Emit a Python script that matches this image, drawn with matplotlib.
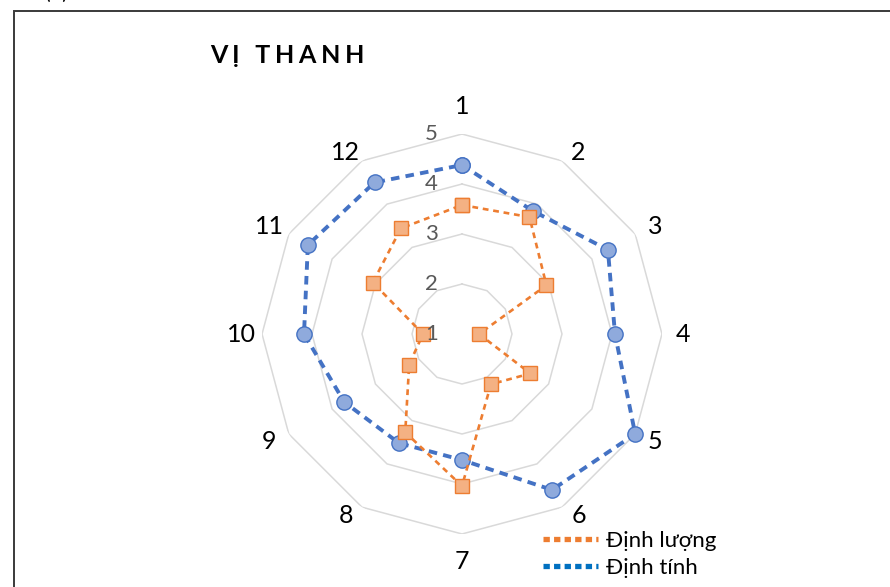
import numpy as np
import matplotlib
matplotlib.use("Agg")
import matplotlib.pyplot as plt
from matplotlib.lines import Line2D
from matplotlib.patches import Rectangle

plt.rcParams['font.family'] = ['Lato', 'DejaVu Sans']

categories = ['1', '2', '3', '4', '5', '6', '7', '8', '9', '10', '11', '12']
dinh_luong = [3.58, 3.70, 2.95, 1.34, 2.58, 2.16, 4.04, 3.27, 2.22, 1.78, 3.06, 3.44]
dinh_tinh = [4.38, 3.84, 4.37, 4.06, 5.00, 4.60, 3.52, 3.52, 3.72, 4.16, 4.56, 4.50]
ring_values = [1, 2, 3, 4, 5]

n = len(categories)
theta = np.linspace(0, 2 * np.pi, n, endpoint=False)
theta_closed = np.append(theta, theta[0])


def closed(vals):
    return np.append(vals, vals[0])


fig = plt.figure(figsize=(8.9, 5.87), dpi=100)
ax = fig.add_axes([0.2944, 0.0903, 0.4494, 0.6814], projection='polar')
ax.set_theta_zero_location('N')
ax.set_theta_direction(-1)
ax.set_ylim(1, 5)
ax.grid(False)
ax.spines['polar'].set_visible(False)
ax.set_xticks([])
ax.set_yticks([])

# polygon gridlines
for v in ring_values[1:]:
    ax.plot(theta_closed, [v] * (n + 1), color='#D9D9D9', lw=1.1, zorder=1)

for v in ring_values:
    ax.annotate(str(v), xy=(0, v), xytext=(-24, 0), textcoords='offset pixels',
                ha='right', va='center', fontsize=16, color='#595959', zorder=6)

ax.plot(theta_closed, closed(dinh_tinh), color='#4472C4', lw=2.8,
        linestyle=(0, (2.2, 1.6)), marker='o', markersize=11,
        markerfacecolor='#8FAADC', markeredgecolor='#4472C4', markeredgewidth=1,
        zorder=3, clip_on=False)
ax.plot(theta_closed, closed(dinh_luong), color='#ED7D31', lw=1.9,
        linestyle=(0, (2.2, 1.8)), marker='s', markersize=10,
        markerfacecolor='#F4B183', markeredgecolor='#ED7D31', markeredgewidth=1,
        zorder=4, clip_on=False)

# category labels sit just outside the outer ring
for t, lab in zip(theta, categories):
    s, c = np.sin(t), np.cos(t)
    dx = np.sign(round(s, 3)) * (12 + 9 * abs(s))
    dy = np.sign(round(c, 3)) * (8 + 20 * (abs(c) > 0.99))
    ax.annotate(lab, xy=(t, 5), xytext=(dx, dy), textcoords='offset pixels',
                ha='center', va='center', fontsize=18, color='black',
                annotation_clip=False)

fig.text(0.236, 0.905, '\u2009\u200a'.join('VỊ THANH'), fontsize=18, fontweight='bold',
         ha='left', va='center', color='black')
fig.text(0.05, 1.002, '(b)', fontsize=15, ha='left', va='baseline')

fig.add_artist(Rectangle((0.0157, -0.1), 1.2, 0.1 + 0.9813, transform=fig.transFigure,
                         fill=False, edgecolor='#3A3A3A', lw=1.4))

handles = [
    Line2D([], [], color='#ED7D31', lw=3.8, linestyle=(0, (1.2, 0.8)), dash_capstyle='butt'),
    Line2D([], [], color='#0070C0', lw=3.8, linestyle=(0, (1.2, 0.8)), dash_capstyle='butt'),
]
fig.legend(handles, ['Định lượng', 'Định tính'], loc='upper left',
           bbox_to_anchor=(0.610, 0.095), frameon=False, fontsize=16,
           handlelength=2.5, handletextpad=0.32, labelspacing=0.3,
           borderaxespad=0, borderpad=0)

fig.savefig('out.png', dpi=100)
